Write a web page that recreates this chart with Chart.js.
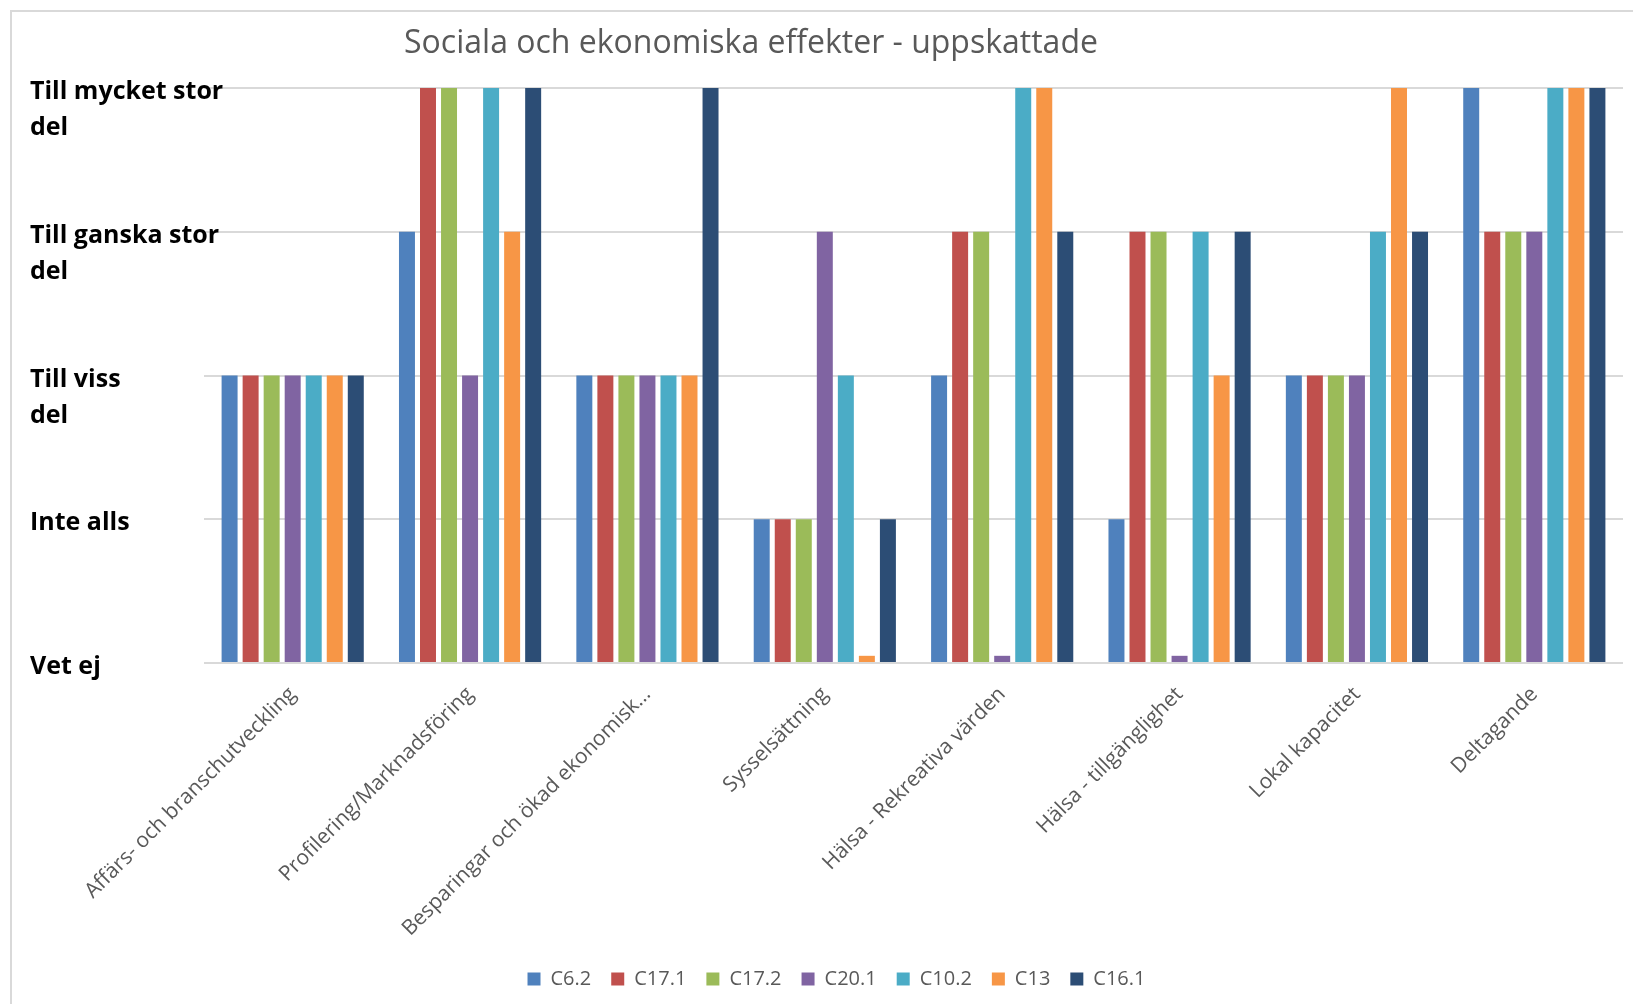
<!DOCTYPE html>
<html lang="sv">
<head>
<meta charset="utf-8">
<title>Sociala och ekonomiska effekter - uppskattade</title>
<script src="https://cdn.jsdelivr.net/npm/chart.js@4/dist/chart.umd.min.js"></script>
<style>
  html, body { margin: 0; padding: 0; background: #ffffff; }
  #wrap { width: 1633px; height: 1004px; position: relative; }
</style>
</head>
<body>
<div id="wrap"><canvas id="chart" width="1633" height="1004"></canvas></div>
<script>
// Effect areas on the x axis
const categories = [
  "Affärs- och branschutveckling",
  "Profilering/Marknadsföring",
  "Besparingar och ökad ekonomisk…",
  "Sysselsättning",
  "Hälsa - Rekreativa värden",
  "Hälsa - tillgänglighet",
  "Lokal kapacitet",
  "Deltagande"
];

// Rating scale: 0 = Vet ej ... 4 = Till mycket stor del
const levelLabels = [
  ["Vet ej"],
  ["Inte alls"],
  ["Till viss", "del"],
  ["Till ganska stor", "del"],
  ["Till mycket stor", "del"]
];

const chartTitle = "Sociala och ekonomiska effekter - uppskattade";

// One series per case
const c6_2  = [2, 3, 2, 1, 2, 1, 2, 4];
const c17_1 = [2, 4, 2, 1, 3, 3, 2, 3];
const c17_2 = [2, 4, 2, 1, 3, 3, 2, 3];
const c20_1 = [2, 2, 2, 3, 0.05, 0.05, 2, 3];
const c10_2 = [2, 4, 2, 2, 4, 3, 3, 4];
const c13   = [2, 3, 2, 0.05, 4, 2, 4, 4];
const c16_1 = [2, 4, 4, 1, 3, 3, 3, 4];

const seriesNames = ["C6.2", "C17.1", "C17.2", "C20.1", "C10.2", "C13", "C16.1"];
const seriesValues = [c6_2, c17_1, c17_2, c20_1, c10_2, c13, c16_1];
const seriesColors = ["#4F81BD", "#C0504D", "#9BBB59", "#8064A2", "#4BACC6", "#F79646", "#2C4D75"];

const FONT = '"Open Sans", "DejaVu Sans", sans-serif';
const GREY_TEXT = "#595959";
const GRID = "#d9d9d9";
const PAD_LEFT = 50;
const AXIS_BAND = 154;      // width of the y axis band
const LABEL_LEFT = 30;      // x where the y labels start

// Chart frame (left and top edges) and the title text
const framePlugin = {
  id: "frameAndTitle",
  beforeDraw(chart) {
    const ctx = chart.ctx;
    ctx.save();
    ctx.strokeStyle = GRID;
    ctx.lineWidth = 2;
    ctx.beginPath();
    ctx.moveTo(11, chart.height);
    ctx.lineTo(11, 11);
    ctx.lineTo(chart.width, 11);
    ctx.stroke();
    ctx.restore();
  },
  afterDraw(chart) {
    const ctx = chart.ctx;
    ctx.save();
    ctx.font = "32px " + FONT;
    ctx.fillStyle = GREY_TEXT;
    ctx.textAlign = "center";
    ctx.textBaseline = "alphabetic";
    ctx.fillText(chartTitle, 751, 53);
    ctx.restore();
  }
};

new Chart(document.getElementById("chart"), {
  type: "bar",
  data: {
    labels: categories,
    datasets: seriesNames.map((name, i) => ({
      label: name,
      data: seriesValues[i],
      backgroundColor: seriesColors[i],
      borderWidth: 0,
      barPercentage: 0.76,
      categoryPercentage: 0.83
    }))
  },
  options: {
    responsive: false,
    animation: false,
    layout: { padding: { top: 88, left: PAD_LEFT, right: 10, bottom: 5 } },
    plugins: {
      title: { display: false },
      tooltip: { enabled: false },
      legend: {
        position: "bottom",
        labels: {
          boxWidth: 13,
          boxHeight: 13,
          padding: 20,
          color: GREY_TEXT,
          font: { family: FONT, size: 20 }
        }
      }
    },
    scales: {
      x: {
        grid: { display: false },
        border: { display: false },
        ticks: {
          color: GREY_TEXT,
          font: { family: FONT, size: 21 },
          minRotation: 45,
          maxRotation: 45,
          autoSkip: false,
          padding: 11
        },
        afterFit(scale) { scale.height = 286; }
      },
      y: {
        min: 0,
        max: 4,
        border: { display: false },
        grid: { color: GRID, lineWidth: 2, drawTicks: false },
        ticks: {
          stepSize: 1,
          autoSkip: false,
          // labels are left-aligned at LABEL_LEFT and may run past the axis band
          mirror: true,
          crossAlign: "near",
          padding: -(PAD_LEFT + AXIS_BAND - LABEL_LEFT),
          labelOffset: 4,
          color: "#000000",
          font: { family: FONT, size: 25, weight: "bold", lineHeight: 1.44 },
          callback(value) {
            const lines = levelLabels[value];
            if (!lines) return "";
            return lines.length > 1 ? [""].concat(lines) : lines;
          }
        },
        afterFit(scale) { scale.width = AXIS_BAND; }
      }
    }
  },
  plugins: [framePlugin]
});
</script>
</body>
</html>
